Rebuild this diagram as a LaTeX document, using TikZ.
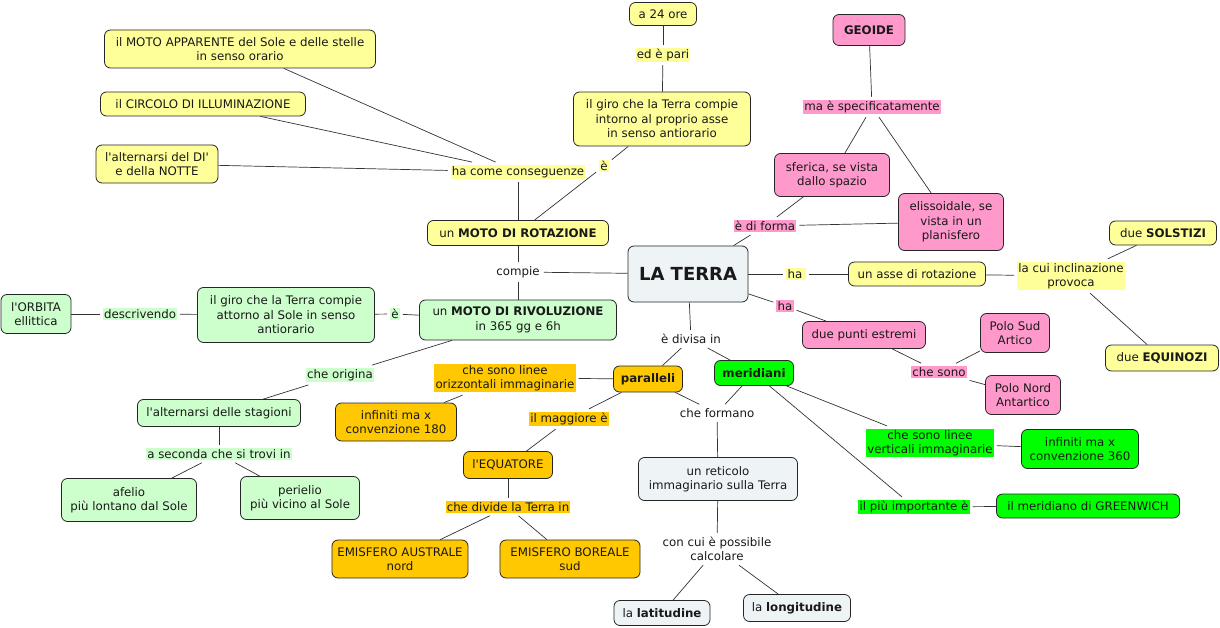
\documentclass[tikz,border=0pt]{standalone}
\usepackage{fontspec}
\setmainfont{DejaVu Sans}
\definecolor{cyel}{HTML}{FFFF99}
\definecolor{cpink}{HTML}{FF99CC}
\definecolor{cgrn}{HTML}{CCFFCC}
\definecolor{corg}{HTML}{FFC800}
\definecolor{cbgr}{HTML}{00FF00}
\definecolor{cgry}{HTML}{EEF3F6}
\newcommand{\ap}{\textquotesingle}
\tikzset{
  base/.style={font=\fontsize{11.8}{14.5}\selectfont, align=center, text=black!90},
  box/.style={base, draw=black!85, line width=0.8pt, rounded corners=6pt, inner sep=2pt},
  sz/.style 2 args={minimum width=#1pt, minimum height=#2pt},
  lbl/.style={base, inner sep=1.2pt, outer sep=3pt},
  conn/.style={draw=black!80, line width=0.7pt},
}
\begin{document}
\begin{tikzpicture}[x=1pt,y=-1pt]
\useasboundingbox[fill=white] (0,0) rectangle (1220,628);
% boxes
\node[box,fill=cyel,sz={67}{23}] (a24) at (663,14) {a 24 ore};
\node[box,fill=cyel,sz={177}{54}] (giroRot) at (662,119) {il giro che la Terra compie\\intorno al proprio asse\\in senso antiorario};
\node[box,fill=cyel,sz={271}{38}] (motoApp) at (240,49) {il MOTO APPARENTE del Sole e delle stelle\\in senso orario};
\node[box,fill=cyel,sz={205}{24}] (circolo) at (203,104) {il CIRCOLO DI ILLUMINAZIONE};
\node[box,fill=cyel,sz={122}{38}] (altDi) at (157,164) {l\ap alternarsi del DI\ap\\e della NOTTE};
\node[box,fill=cyel,sz={181}{25}] (motoRot) at (518,233) {un \textbf{MOTO DI ROTAZIONE}};
\node[box,fill=cpink,sz={72}{31}] (geoide) at (869,30) {\textbf{GEOIDE}};
\node[box,fill=cpink,sz={115}{43}] (sferica) at (832,175) {sferica, se vista\\dallo spazio};
\node[box,fill=cpink,sz={105}{57}] (elisso) at (951,222) {elissoidale, se\\vista in un\\planisfero};
\node[box,fill=cgry,sz={120}{56},font=\fontsize{18}{21}\selectfont\bfseries] (terra) at (688,274) {LA TERRA};
\node[box,fill=cgrn,sz={197}{40}] (motoRiv) at (518,320) {un \textbf{MOTO DI RIVOLUZIONE}\\in 365 gg e 6h};
\node[box,fill=cgrn,sz={177}{55}] (giroRiv) at (286,315) {il giro che la Terra compie\\attorno al Sole in senso\\antiorario};
\node[box,fill=cgrn,sz={70}{39}] (orbita) at (36,314) {l\ap ORBITA\\ellittica};
\node[box,fill=cgrn,sz={163}{27}] (altStag) at (219,413) {l\ap alternarsi delle stagioni};
\node[box,fill=cgrn,sz={135}{43}] (afelio) at (129,500) {afelio\\più lontano dal Sole};
\node[box,fill=cgrn,sz={119}{43}] (perielio) at (300,498) {perielio\\più vicino al Sole};
\node[box,fill=cyel,sz={137}{24}] (asse) at (917,274) {un asse di rotazione};
\node[box,fill=cyel,sz={107}{24}] (solstizi) at (1163,233) {due \textbf{SOLSTIZI}};
\node[box,fill=cyel,sz={113}{26}] (equinozi) at (1162,358) {due \textbf{EQUINOZI}};
\node[box,fill=cpink,sz={123}{27}] (duePunti) at (864,335) {due punti estremi};
\node[box,fill=cpink,sz={69}{39}] (poloSud) at (1015,333) {Polo Sud\\Artico};
\node[box,fill=cpink,sz={75}{39}] (poloNord) at (1023,395) {Polo Nord\\Antartico};
\node[box,fill=corg,sz={69}{26}] (paralleli) at (648,379) {\textbf{paralleli}};
\node[box,fill=cbgr,sz={79}{25}] (meridiani) at (754,373) {\textbf{meridiani}};
\node[box,fill=corg,sz={121}{38}] (inf180) at (396,422) {infiniti ma x\\convenzione 180};
\node[box,fill=corg,sz={89}{27}] (equatore) at (508,465) {l\ap EQUATORE};
\node[box,fill=corg,sz={136}{38}] (australe) at (400,559) {EMISFERO AUSTRALE\\nord};
\node[box,fill=corg,sz={140}{38}] (boreale) at (570,559) {EMISFERO BOREALE\\sud};
\node[box,fill=cgry,sz={159}{43}] (reticolo) at (718,479) {un reticolo\\immaginario sulla Terra};
\node[box,fill=cgry,sz={96}{25}] (latitudine) at (662,613) {la \textbf{latitudine}};
\node[box,fill=cgry,sz={107}{27}] (longitudine) at (797,608) {la \textbf{longitudine}};
\node[box,fill=cbgr,sz={117}{39}] (inf360) at (1080,449) {infiniti ma x\\convenzione 360};
\node[box,fill=cbgr,sz={183}{24}] (greenwich) at (1088,506) {il meridiano di GREENWICH};
% labels
\node[lbl,fill=cyel] (edpari) at (663,55) {ed è pari};
\node[lbl,fill=cyel] (haCome) at (518,172) {ha come conseguenze};
\node[lbl,fill=cyel] (e1) at (604,166) {è};
\node[lbl,fill=cpink] (maSpec) at (872,107) {ma è specificatamente};
\node[lbl,fill=cpink] (diForma) at (765,226) {è di forma};
\node[lbl] (compie) at (518,272) {compie};
\node[lbl,fill=cgrn] (descrivendo) at (140,314) {descrivendo};
\node[lbl,fill=cgrn] (e2) at (395,314) {è};
\node[lbl,fill=cgrn] (cheOrigina) at (340,375) {che origina};
\node[lbl,fill=cgrn] (aSeconda) at (219,454) {a seconda che si trovi in};
\node[lbl,fill=cyel] (ha1) at (796,274) {ha\,};
\node[lbl,fill=cyel] (laCui) at (1071,276) {la cui inclinazione\\provoca};
\node[lbl,fill=cpink] (ha2) at (785,306) {ha};
\node[lbl,fill=cpink] (cheSono) at (939,372) {che sono};
\node[lbl] (eDivisa) at (691,339) {è divisa in};
\node[lbl,fill=corg] (cheSonoOriz) at (505,378) {che sono linee\\orizzontali immaginarie};
\node[lbl,fill=corg] (ilMagg) at (569,419) {il maggiore è};
\node[lbl,fill=corg] (cheDivide) at (508,507) {che divide la Terra in};
\node[lbl] (cheFormano) at (717,413) {che formano};
\node[lbl] (conCui) at (717,549) {con cui è possibile\\calcolare};
\node[lbl,fill=cbgr] (cheSonoVert) at (930,443) {che sono linee\\verticali immaginarie};
\node[lbl,fill=cbgr] (ilPiu) at (914,507) {il più importante è};
% connectors
\begin{scope}[every path/.style={conn}]
\draw (a24) -- (edpari); \draw (edpari) -- (giroRot);
\draw (giroRot) -- (e1); \draw (e1) -- (motoRot);
\draw (motoApp) -- (haCome); \draw (circolo) -- (haCome); \draw (altDi) -- (haCome);
\draw (haCome) -- (motoRot);
\draw (geoide) -- (maSpec); \draw (maSpec) -- (sferica); \draw (maSpec) -- (elisso);
\draw (sferica) -- (diForma); \draw (elisso) -- (diForma); \draw (diForma) -- (terra);
\draw (terra) -- (compie); \draw (compie) -- (motoRot); \draw (compie) -- (motoRiv);
\draw (motoRiv) -- (e2); \draw (e2) -- (giroRiv);
\draw (giroRiv) -- (descrivendo); \draw (descrivendo) -- (orbita);
\draw (motoRiv) -- (cheOrigina); \draw (cheOrigina) -- (altStag);
\draw (altStag) -- (aSeconda); \draw (aSeconda) -- (afelio); \draw (aSeconda) -- (perielio);
\draw (terra) -- (ha1); \draw (ha1) -- (asse); \draw (asse) -- (laCui);
\draw (laCui) -- (solstizi); \draw (laCui) -- (equinozi);
\draw (terra) -- (ha2); \draw (ha2) -- (duePunti); \draw (duePunti) -- (cheSono);
\draw (cheSono) -- (poloSud); \draw (cheSono) -- (poloNord);
\draw (terra) -- (eDivisa); \draw (eDivisa) -- (paralleli); \draw (eDivisa) -- (meridiani);
\draw (paralleli) -- (cheSonoOriz); \draw (cheSonoOriz) -- (inf180);
\draw (paralleli) -- (ilMagg); \draw (ilMagg) -- (equatore);
\draw (equatore) -- (cheDivide); \draw (cheDivide) -- (australe); \draw (cheDivide) -- (boreale);
\draw (paralleli) -- (cheFormano); \draw (meridiani) -- (cheFormano);
\draw (cheFormano) -- (reticolo); \draw (reticolo) -- (conCui);
\draw (conCui) -- (latitudine); \draw (conCui) -- (longitudine);
\draw (meridiani) -- (cheSonoVert); \draw (cheSonoVert) -- (inf360);
\draw (meridiani) -- (ilPiu); \draw (ilPiu) -- (greenwich);
\end{scope}
\end{tikzpicture}
\end{document}
